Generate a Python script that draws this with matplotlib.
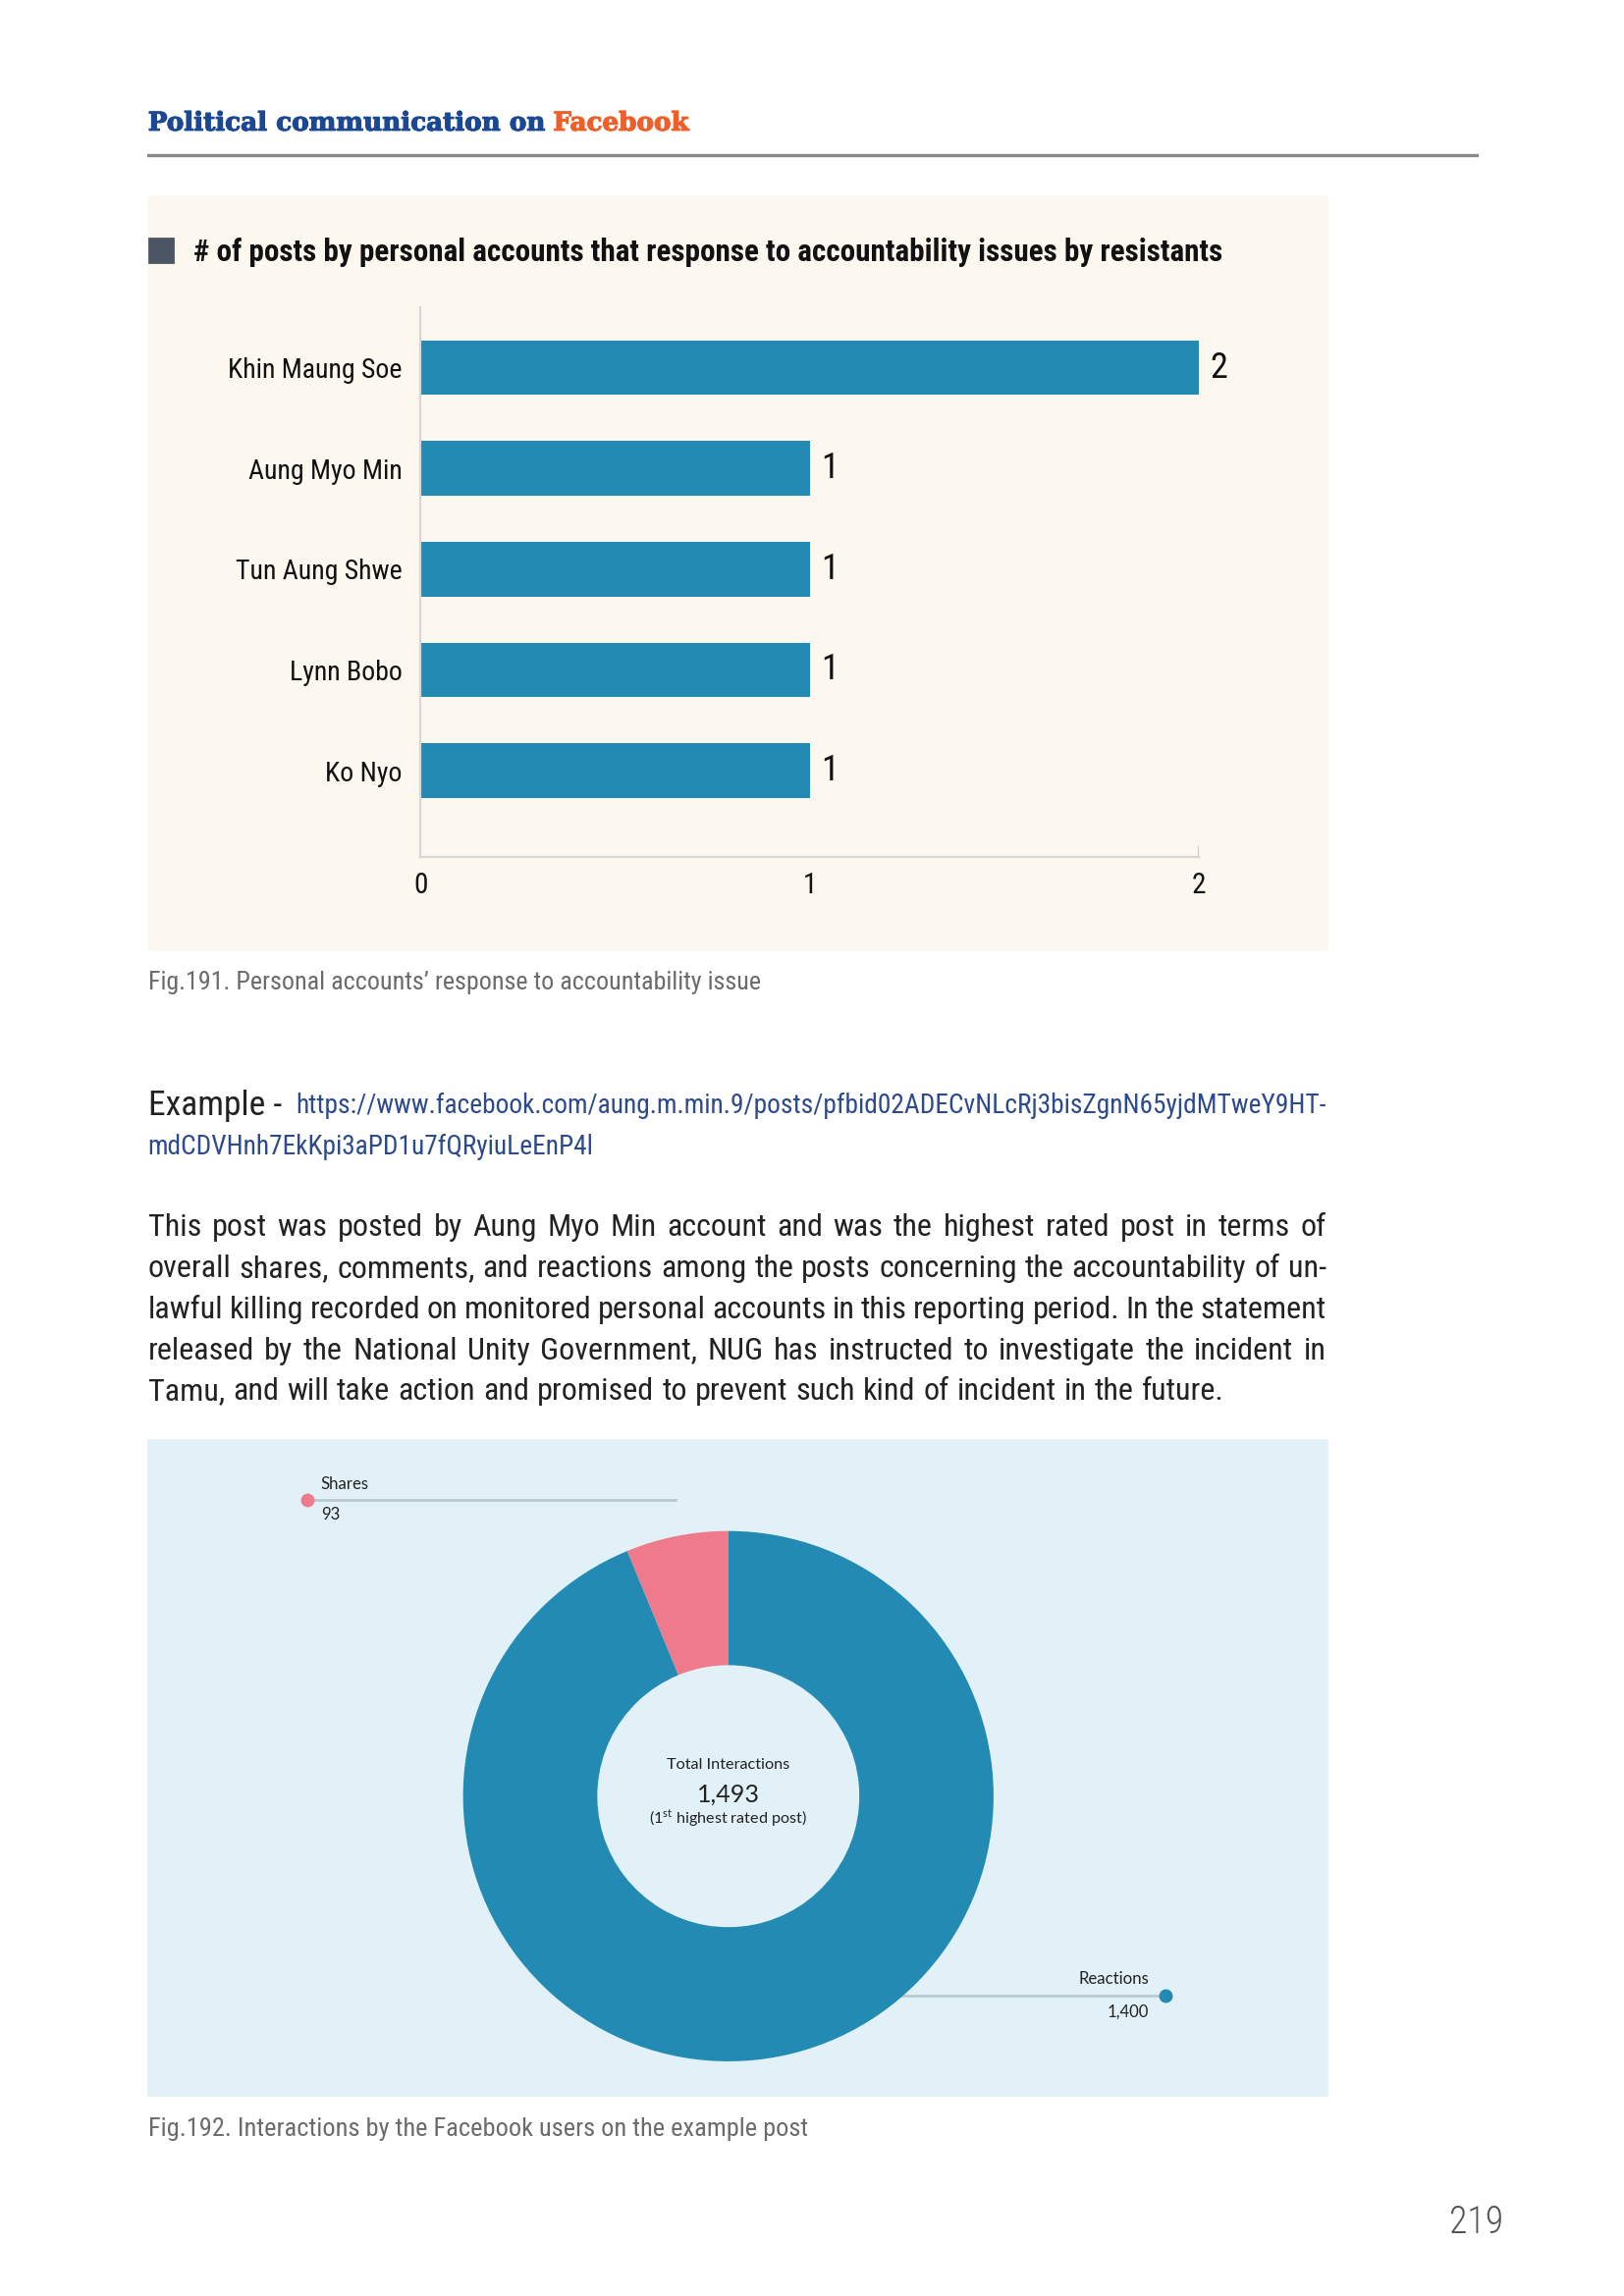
import matplotlib
matplotlib.use('Agg')
import matplotlib.pyplot as plt
import matplotlib.patheffects as pe
from matplotlib import font_manager
from matplotlib.patches import Rectangle

# data
names = ['Khin Maung Soe', 'Aung Myo Min', 'Tun Aung Shwe', 'Lynn Bobo', 'Ko Nyo']
counts = [2, 1, 1, 1, 1]
xticks = [0, 1, 2]
parts = ['Shares', 'Reactions']
part_values = [93, 1400]
total = 1493

W, H = 1654, 2339
S = 1.4925  # layout below is measured on a 1108 px wide copy of the page
avail = {f.name for f in font_manager.fontManager.ttflist}
body = 'Roboto Condensed' if 'Roboto Condensed' in avail else 'Lato'
small = 'Lato'
plt.rcParams['font.family'] = [body, 'DejaVu Sans']
plt.rcParams['mathtext.fontset'] = 'custom'
plt.rcParams['mathtext.rm'] = small

blue = '#238bb3'
pink = '#ef7a8c'

fig = plt.figure(figsize=(W / 200, H / 200), dpi=200)
page = fig.add_axes([0, 0, 1, 1])
page.set_xlim(0, W / S)
page.set_ylim(H / S, 0)
page.axis('off')
rend = fig.canvas.get_renderer()


def wid(t):
    return t.get_window_extent(rend).width / S


def size_for(s, w, **kw):
    t = page.text(0, 0, s, fontsize=10, **kw)
    k = 10 * w / wid(t)
    t.remove()
    return k


def put(x, y, s, w, **kw):
    k = size_for(s, w, **kw)
    return page.text(x, y, s, fontsize=k, **kw)


def box(x0, y0, x1, y1):
    return [x0 * S / W, 1 - y1 * S / H, (x1 - x0) * S / W, (y1 - y0) * S / H]


# header
hf = dict(family='DejaVu Serif', weight='bold', va='center')
hk = size_for('Political communication on Facebook', 370, **hf)
t1 = page.text(101, 84, 'Political communication on ', fontsize=hk, color='#1b4793', **hf)
t2 = page.text(101 + wid(t1), 84, 'Facebook', fontsize=hk, color='#ef5f2a', **hf)
t1.set_path_effects([pe.withStroke(linewidth=0.4, foreground='#1b4793')])
t2.set_path_effects([pe.withStroke(linewidth=0.4, foreground='#ef5f2a')])
page.plot([101, 1008], [106, 106], color='#8a8a8a', lw=1.2)

# panel 1
page.add_patch(Rectangle((101, 134), 804, 514, color='#fdf8ef', zorder=0))
page.add_patch(Rectangle((102, 163), 16, 16, color='#4b5563'))
put(132, 172, '# of posts by personal accounts that response to accountability issues by resistants',
    702, weight='bold', va='center', color='#111111')

ax = fig.add_axes(box(287, 210, 818, 585))
ax.patch.set_alpha(0)
ax.barh(range(len(names)), counts, height=0.54, color=blue)
ax.set_xlim(0, 2)
ax.set_ylim(4.858, -0.596)
lk = size_for('Khin Maung Soe', 119)
ax.set_yticks(range(len(names)), names, fontsize=lk, color='#111111')
ax.set_xticks(xticks, [str(v) for v in xticks], fontsize=lk * 1.05, color='#111111')
ax.tick_params(axis='y', length=0, pad=6.8)
ax.tick_params(axis='x', length=0, pad=5.5)
for s in ['top', 'right']:
    ax.spines[s].set_visible(False)
for s in ['left', 'bottom']:
    ax.spines[s].set_color('#d6d6d6')
    ax.spines[s].set_linewidth(0.8)
ax.axvline(2, ymin=0, ymax=0.018, color='#c8c8c8', lw=0.8)
for i, v in enumerate(counts):
    ax.text(v + 0.03, i, str(v), fontsize=lk * 1.3, va='center', ha='left', color='#111111')

put(101, 671, 'Fig.191. Personal accounts\u2019 response to accountability issue', 416,
    color='#6b6b6b', va='center')

# example link
put(101, 755, 'Example -', 91, color='#222222', va='center')
url1 = 'https://www.facebook.com/aung.m.min.9/posts/pfbid02ADECvNLcRj3bisZgnN65yjdMTweY9HT-'
uk = size_for(url1, 703)
page.text(202, 755, url1, fontsize=uk, color='#2c4a8c', va='center')
page.text(101, 783, 'mdCDVHnh7EkKpi3aPD1u7fQRyiuLeEnP4l', fontsize=uk, color='#2c4a8c', va='center')

# justified paragraph
lines = [
    'This post was posted by Aung Myo Min account and was the highest rated post in terms of',
    'overall shares, comments, and reactions among the posts concerning the accountability of un-',
    'lawful killing recorded on monitored personal accounts in this reporting period. In the statement',
    'released by the National Unity Government, NUG has instructed to investigate the incident in',
    'Tamu, and will take action and promised to prevent such kind of incident in the future.',
]
bk = size_for(lines[-1], 829 - 101)
x0, x1 = 101, 905
for n, line in enumerate(lines):
    y = 838 + 28 * n
    words = line.split()
    ts = [page.text(0, y, w, fontsize=bk, va='center', color='#222222') for w in words]
    ws = [wid(t) for t in ts]
    if n == len(lines) - 1:
        gap = bk * 0.25 * 200 / 72 / S
    else:
        gap = (x1 - x0 - sum(ws)) / (len(words) - 1)
    x = x0
    for t, w in zip(ts, ws):
        t.set_x(x)
        x += w + gap

# panel 2
page.add_patch(Rectangle((101, 983), 804, 447, color='#e2f1f7', zorder=0))
cx, cy, R = 497, 1226, 181
dax = fig.add_axes(box(cx - R, cy - R, cx + R, cy + R))
dax.pie(part_values, colors=[pink, blue], startangle=90, counterclock=True,
        wedgeprops=dict(width=0.506, edgecolor='none'))
dax.set_xlim(-1, 1)
dax.set_ylim(-1, 1)
dax.axis('off')

line_c = '#b9cad2'
sf = dict(family=small, va='center', color='#222222')
page.plot([210, 461], [1024, 1024], color=line_c, lw=1)
page.plot([210], [1024], 'o', color=pink, ms=4)
sk = size_for('Shares', 33, family=small)
page.text(219, 1013, parts[0], fontsize=sk, **sf)
page.text(219, 1034, str(part_values[0]), fontsize=sk, **sf)

page.plot([615, 793], [1362, 1362], color=line_c, lw=1)
page.plot([795], [1362], 'o', color=blue, ms=4)
page.text(784, 1351, parts[1], fontsize=sk, ha='right', **sf)
page.text(784, 1373, f'{part_values[1]:,}', fontsize=sk, ha='right', **sf)

t = put(0, 1205, 'Total Interactions', 84, **sf)
t.set_x(cx - wid(t) / 2)
t = put(0, 1225, f'{total:,}', 43, **sf)
t.set_x(cx - wid(t) / 2)
t = put(0, 1241, '(1$^{\\mathrm{st}}$ highest rated post)', 107, **sf)
t.set_x(cx - wid(t) / 2)

put(101, 1453, 'Fig.192. Interactions by the Facebook users on the example post', 449,
    color='#6b6b6b', va='center')

t = put(0, 1517, '219', 37, va='center', color='#555555', weight='light')
t.set_x(1026 - wid(t))

fig.savefig('out.png', dpi=200)
